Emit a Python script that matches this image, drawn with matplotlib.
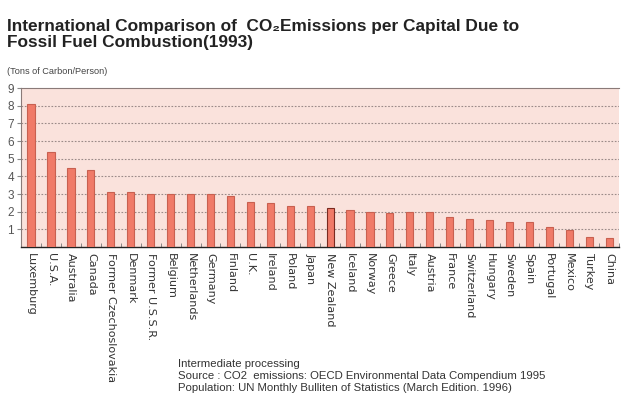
import numpy as np
import matplotlib
matplotlib.use("Agg")
import matplotlib.pyplot as plt

countries = ["Luxemburg", "U.S.A.", "Australia", "Canada", "Former Czechoslovakia",
             "Denmark", "Former U.S.S.R.", "Belgium", "Netherlands", "Germany",
             "Finland", "U.K.", "Ireland", "Poland", "Japan", "New Zealand",
             "Iceland", "Norway", "Greece", "Italy", "Austria", "France",
             "Switzerland", "Hungary", "Sweden", "Spain", "Portugal", "Mexico",
             "Turkey", "China"]
emissions = [8.1, 5.38, 4.45, 4.35, 3.1, 3.1, 3.0, 3.0, 3.0, 3.0,
             2.9, 2.55, 2.5, 2.33, 2.33, 2.22, 2.1, 2.0, 1.9, 1.98,
             1.98, 1.68, 1.56, 1.52, 1.43, 1.43, 1.11, 0.96, 0.58, 0.53]
yticks = [1, 2, 3, 4, 5, 6, 7, 8, 9]

plt.rcParams['font.family'] = ['Liberation Sans', 'DejaVu Sans']

fig = plt.figure(figsize=(6.21, 3.99), dpi=100)
ax = fig.add_axes([0.034, 0.381, 0.963, 0.398])
ax.set_facecolor("#fae2dc")

x = np.arange(len(countries))
edges = ["#7a2a20" if c == "New Zealand" else "#c86050" for c in countries]
ax.bar(x, emissions, width=0.36, color="#f07a68", edgecolor=edges, linewidth=0.8, zorder=3)

ax.set_xlim(-0.5, len(countries) - 0.5)
ax.set_ylim(0, 9)
ax.set_yticks(yticks)
ax.set_yticklabels([str(v) for v in yticks], fontsize=8.5, color="#555555")
ax.tick_params(axis="y", length=3, color="#888888", pad=2)
for v in yticks[:-1]:
    ax.axhline(v, color="#9a8a88", linestyle=(0, (1.5, 1.5)), linewidth=0.8, zorder=1)

ax.set_xticks(x)
ax.set_xticklabels(countries, rotation=-90, fontsize=8, color="#333333",
                   family="DejaVu Sans", va="top", ha="center")
ax.tick_params(axis="x", length=0, pad=4)
ax.set_xticks(np.arange(len(countries) + 1) - 0.5, minor=True)
ax.tick_params(axis="x", which="minor", direction="in", length=3, color="#777777")

for s in ["left", "top"]:
    ax.spines[s].set_color("#8a7a78")
ax.spines["right"].set_visible(False)
ax.spines["bottom"].set_color("#222222")
ax.spines["bottom"].set_linewidth(1.0)

fig.text(0.011, 0.922, "International Comparison of  CO\u2082Emissions per Capital Due to",
         fontsize=12.4, fontweight="bold", color="#222222", va="baseline")
fig.text(0.011, 0.882, "Fossil Fuel Combustion(1993)",
         fontsize=12.4, fontweight="bold", color="#222222", va="baseline")
fig.text(0.011, 0.815, "(Tons of Carbon/Person)", fontsize=6.6, color="#444444", va="baseline")

notes = ["Intermediate processing",
         "Source : CO2  emissions: OECD Environmental Data Compendium 1995",
         "Population: UN Monthly Bulliten of Statistics (March Edition. 1996)"]
for i, line in enumerate(notes):
    fig.text(0.287, 0.081 - i * 0.031, line, fontsize=8.2, color="#333333", va="baseline")

fig.savefig("out.png", dpi=100)
